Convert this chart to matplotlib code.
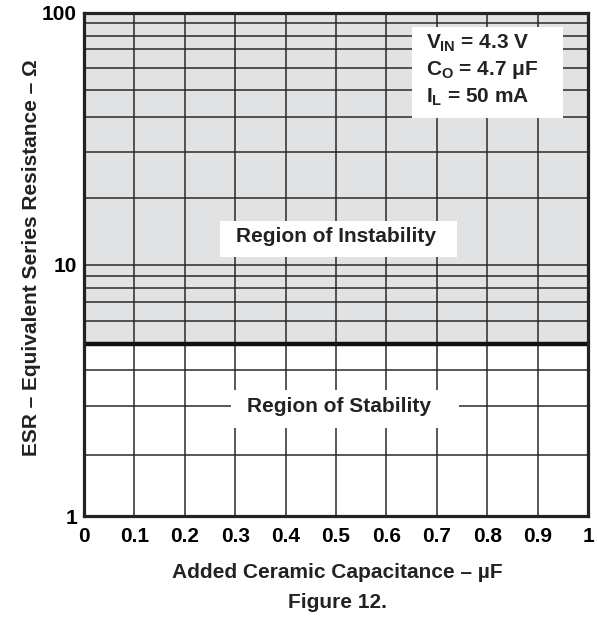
import numpy as np
import matplotlib
matplotlib.use("Agg")
import matplotlib.pyplot as plt
from matplotlib.patches import Rectangle

plt.rcParams['font.family'] = ['Liberation Sans', 'DejaVu Sans']
plt.rcParams['font.weight'] = 'bold'
plt.rcParams['mathtext.fontset'] = 'custom'
plt.rcParams['mathtext.rm'] = 'Liberation Sans:bold'
plt.rcParams['mathtext.bf'] = 'Liberation Sans:bold'
plt.rcParams['mathtext.it'] = 'Liberation Sans:bold'

# data
x_ticks = [0, 0.1, 0.2, 0.3, 0.4, 0.5, 0.6, 0.7, 0.8, 0.9, 1]
x_tick_labels = ['0', '0.1', '0.2', '0.3', '0.4', '0.5', '0.6', '0.7', '0.8', '0.9', '1']
y_ticks = [1, 10, 100]
y_tick_labels = ['1', '10', '100']
# horizontal grid lines as drawn in the original (not exact log spacing)
y_grid = [1.75, 2.73, 3.80, 5.97, 7.11, 8.09, 9.04,
          18.4, 28.1, 38.6, 49.3, 60.7, 72.1, 81.1, 91.2]
esr_boundary = 4.83  # stable below, unstable above
conditions = [r'$V_{IN}$ = 4.3 V', r'$C_{O}$ = 4.7 $\mu$F', r'$I_{L}$ = 50 mA']

FS = 15
fig = plt.figure(figsize=(5.97, 6.18), dpi=100)
ax = fig.add_axes([84/597, 1 - 516/618, (588 - 84)/597, (516 - 13)/618])

ax.set_xlim(0, 1)
ax.set_yscale('log')
ax.set_ylim(1, 100)

# shaded instability region
ax.axhspan(esr_boundary, 100, color='#e1e2e4', zorder=0)

ax.set_xticks(x_ticks)
ax.set_xticklabels(x_tick_labels, fontsize=FS, fontweight='bold')
ax.set_yticks(y_ticks)
ax.set_yticklabels(y_tick_labels, fontsize=FS, fontweight='bold')
ax.set_yticks(y_grid, minor=True)
ax.yaxis.set_minor_formatter(matplotlib.ticker.NullFormatter())
ax.tick_params(which='both', length=0)
ax.tick_params(axis='x', pad=8)
ax.tick_params(axis='y', pad=5)
ax.grid(True, which='both', color='#2a2a2a', linewidth=1.1, zorder=1)

# boundary between stable / unstable
ax.axhline(esr_boundary, color='#111111', linewidth=3.2, zorder=3)

for s in ax.spines.values():
    s.set_linewidth(2.3)
    s.set_color('#222222')
    s.set_zorder(4)

# label boxes
ax.add_patch(Rectangle((0.270, 0.515), 0.470, 0.0715, transform=ax.transAxes,
                       facecolor='white', edgecolor='none', zorder=5))
ax.text(0.5, 0.555, 'Region of Instability', transform=ax.transAxes,
        fontsize=FS, fontweight='bold', color='#222222',
        ha='center', va='center', zorder=6)

ax.add_patch(Rectangle((0.292, 0.175), 0.452, 0.0755, transform=ax.transAxes,
                       facecolor='white', edgecolor='none', zorder=5))
ax.text(0.506, 0.217, 'Region of Stability', transform=ax.transAxes,
        fontsize=FS, fontweight='bold', color='#222222',
        ha='center', va='center', zorder=6)

ax.add_patch(Rectangle((0.651, 0.791), 0.299, 0.181, transform=ax.transAxes,
                       facecolor='white', edgecolor='none', zorder=5))
for i, line in enumerate(conditions):
    ax.text(0.679, 0.940 - i * 0.0535, line, transform=ax.transAxes,
            fontsize=FS, fontweight='bold', color='#222222',
            ha='left', va='center', zorder=6)

fig.text(32/597, 1 - 258/618, 'ESR – Equivalent Series Resistance – Ω', rotation=90,
         fontsize=FS, fontweight='bold', color='#222222', ha='center', va='center')
fig.text(337/597, 1 - 572/618, 'Added Ceramic Capacitance – µF',
         fontsize=FS, fontweight='bold', color='#222222', ha='center', va='center')
fig.text(337/597, 1 - 603/618, 'Figure 12.',
         fontsize=FS, fontweight='bold', color='#222222', ha='center', va='center')

fig.savefig('out.png', dpi=100)
